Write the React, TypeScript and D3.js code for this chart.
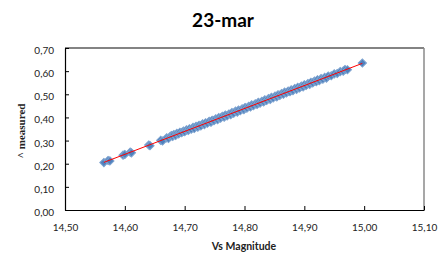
import React, { useEffect, useRef } from 'react';
import * as d3 from 'd3';

const magnitude = [
  14.565, 14.572, 14.575, 14.597, 14.600, 14.609, 14.611, 14.640, 14.642, 14.660,
  14.663, 14.670, 14.673, 14.676, 14.678, 14.680, 14.682, 14.685, 14.687, 14.690,
  14.692, 14.695, 14.698, 14.700, 14.703, 14.706, 14.708, 14.711, 14.714, 14.716,
  14.719, 14.722, 14.724, 14.727, 14.730, 14.733, 14.735, 14.738, 14.741, 14.744,
  14.746, 14.749, 14.752, 14.755, 14.757, 14.760, 14.763, 14.766, 14.768, 14.771,
  14.774, 14.777, 14.779, 14.782, 14.785, 14.788, 14.790, 14.793, 14.796, 14.799,
  14.801, 14.804, 14.807, 14.810, 14.812, 14.815, 14.818, 14.821, 14.823, 14.826,
  14.829, 14.832, 14.834, 14.837, 14.840, 14.843, 14.845, 14.848, 14.851, 14.854,
  14.856, 14.859, 14.862, 14.865, 14.867, 14.870, 14.873, 14.876, 14.878, 14.881,
  14.884, 14.887, 14.889, 14.892, 14.895, 14.898, 14.900, 14.903, 14.906, 14.909,
  14.911, 14.914, 14.917, 14.920, 14.922, 14.925, 14.928, 14.931, 14.934, 14.937,
  14.940, 14.945, 14.950, 14.955, 14.960, 14.965, 14.968, 14.972, 14.997,
];
const measured = [
  0.205, 0.214, 0.212, 0.237, 0.240, 0.250, 0.247, 0.281, 0.278, 0.301,
  0.298, 0.312, 0.309, 0.318, 0.322, 0.318, 0.326, 0.322, 0.331, 0.329,
  0.336, 0.334, 0.341, 0.338, 0.346, 0.344, 0.351, 0.349, 0.357, 0.352,
  0.361, 0.358, 0.366, 0.363, 0.372, 0.369, 0.377, 0.375, 0.383, 0.379,
  0.388, 0.386, 0.394, 0.390, 0.399, 0.397, 0.405, 0.401, 0.410, 0.407,
  0.415, 0.412, 0.421, 0.418, 0.427, 0.423, 0.432, 0.429, 0.437, 0.434,
  0.443, 0.440, 0.448, 0.445, 0.454, 0.451, 0.459, 0.456, 0.465, 0.462,
  0.470, 0.467, 0.476, 0.473, 0.481, 0.478, 0.487, 0.484, 0.492, 0.489,
  0.498, 0.495, 0.503, 0.500, 0.509, 0.506, 0.514, 0.511, 0.519, 0.516,
  0.525, 0.521, 0.530, 0.527, 0.535, 0.532, 0.541, 0.538, 0.546, 0.543,
  0.552, 0.549, 0.557, 0.554, 0.563, 0.559, 0.568, 0.565, 0.573, 0.570,
  0.579, 0.580, 0.588, 0.590, 0.598, 0.600, 0.607, 0.606, 0.635,
];

const xTicks = [14.5, 14.6, 14.7, 14.8, 14.9, 15.0, 15.1];
const yTicks = [0, 0.1, 0.2, 0.3, 0.4, 0.5, 0.6, 0.7];

const chartTitle = '23-mar';
const xTitle = 'Vs Magnitude';
const yTitle = '^ measured';

const W = 441;
const H = 260;
const left = 65, right = 424, top = 48, bottom = 210;

const comma = (v: number) => d3.format('.2f')(v).replace('.', ',');

export default function App() {
  const svgRef = useRef<SVGSVGElement>(null);

  useEffect(() => {
    const svg = d3.select(svgRef.current);
    svg.selectAll('*').remove();

    const x = d3.scaleLinear().domain([14.5, 15.1]).range([left, right]);
    const y = d3.scaleLinear().domain([0, 0.7]).range([bottom, top]);

    // frame: gray top/right, black axes
    svg.append('line').attr('x1', left).attr('x2', right).attr('y1', top).attr('y2', top)
      .attr('stroke', '#5a5a5a').attr('stroke-width', 1.5);
    svg.append('line').attr('x1', right).attr('x2', right).attr('y1', top).attr('y2', bottom)
      .attr('stroke', '#8a8a8a').attr('stroke-width', 1.5);

    const xAxis = d3.axisBottom(x).tickValues(xTicks).tickFormat(d => comma(+d))
      .tickSize(-4).tickSizeOuter(0).tickPadding(14);
    const gx = svg.append('g').attr('transform', `translate(0,${bottom})`).call(xAxis);

    const yAxis = d3.axisLeft(y).tickValues(yTicks).tickFormat(d => comma(+d))
      .tickSize(-4).tickSizeOuter(0).tickPadding(11);
    const gy = svg.append('g').attr('transform', `translate(${left},0)`).call(yAxis);

    [gx, gy].forEach(g => {
      g.select('.domain').attr('stroke', '#000').attr('stroke-width', 1.2);
      g.selectAll('.tick line').attr('stroke', '#000');
      g.selectAll('text').attr('font-family', 'Lato, "Open Sans", sans-serif')
        .attr('font-size', 10).attr('fill', '#222');
    });
    gy.selectAll('text').attr('dy', '0.55em');

    // markers
    const pts = magnitude.map((m, i) => [m, measured[i]]);
    const diamond = d3.symbol().type(d3.symbolSquare).size(34);
    svg.append('g').selectAll('path').data(pts).join('path')
      .attr('d', diamond)
      .attr('transform', d => `translate(${x(d[0])},${y(d[1])}) rotate(45)`)
      .attr('fill', '#4f81bd')
      .attr('stroke', '#7ea3d0')
      .attr('stroke-width', 1);

    // linear trend line
    const mx = d3.mean(magnitude) as number;
    const my = d3.mean(measured) as number;
    let sxy = 0, sxx = 0;
    magnitude.forEach((m, i) => {
      sxy += (m - mx) * (measured[i] - my);
      sxx += (m - mx) * (m - mx);
    });
    const slope = sxy / sxx;
    const icpt = my - slope * mx;
    const ext = d3.extent(magnitude) as [number, number];
    svg.append('path')
      .datum(ext.map(v => [v, icpt + slope * v]))
      .attr('d', d3.line<number[]>().x(d => x(d[0])).y(d => y(d[1])))
      .attr('stroke', '#ff0000').attr('stroke-width', 1).attr('fill', 'none');

    svg.append('text').text(chartTitle)
      .attr('x', 223).attr('y', 27).attr('text-anchor', 'middle')
      .attr('font-family', 'Lato, "Open Sans", sans-serif').attr('font-weight', 'bold')
      .attr('font-size', 19).attr('fill', '#000');

    svg.append('text').text(xTitle)
      .attr('x', 244).attr('y', 250).attr('text-anchor', 'middle')
      .attr('font-family', 'Lato, "Open Sans", sans-serif').attr('font-weight', 'bold')
      .attr('font-size', 10.5).attr('fill', '#222');

    svg.append('text').text(yTitle)
      .attr('transform', 'translate(25,131) rotate(-90)').attr('text-anchor', 'middle')
      .attr('font-family', '"Liberation Serif", serif').attr('font-weight', 'bold')
      .attr('font-size', 11).attr('fill', '#222');
  }, []);

  return (
    <svg ref={svgRef} width={W} height={H}
      style={{ position: 'absolute', left: 0, top: 0, background: '#fff' }} />
  );
}
